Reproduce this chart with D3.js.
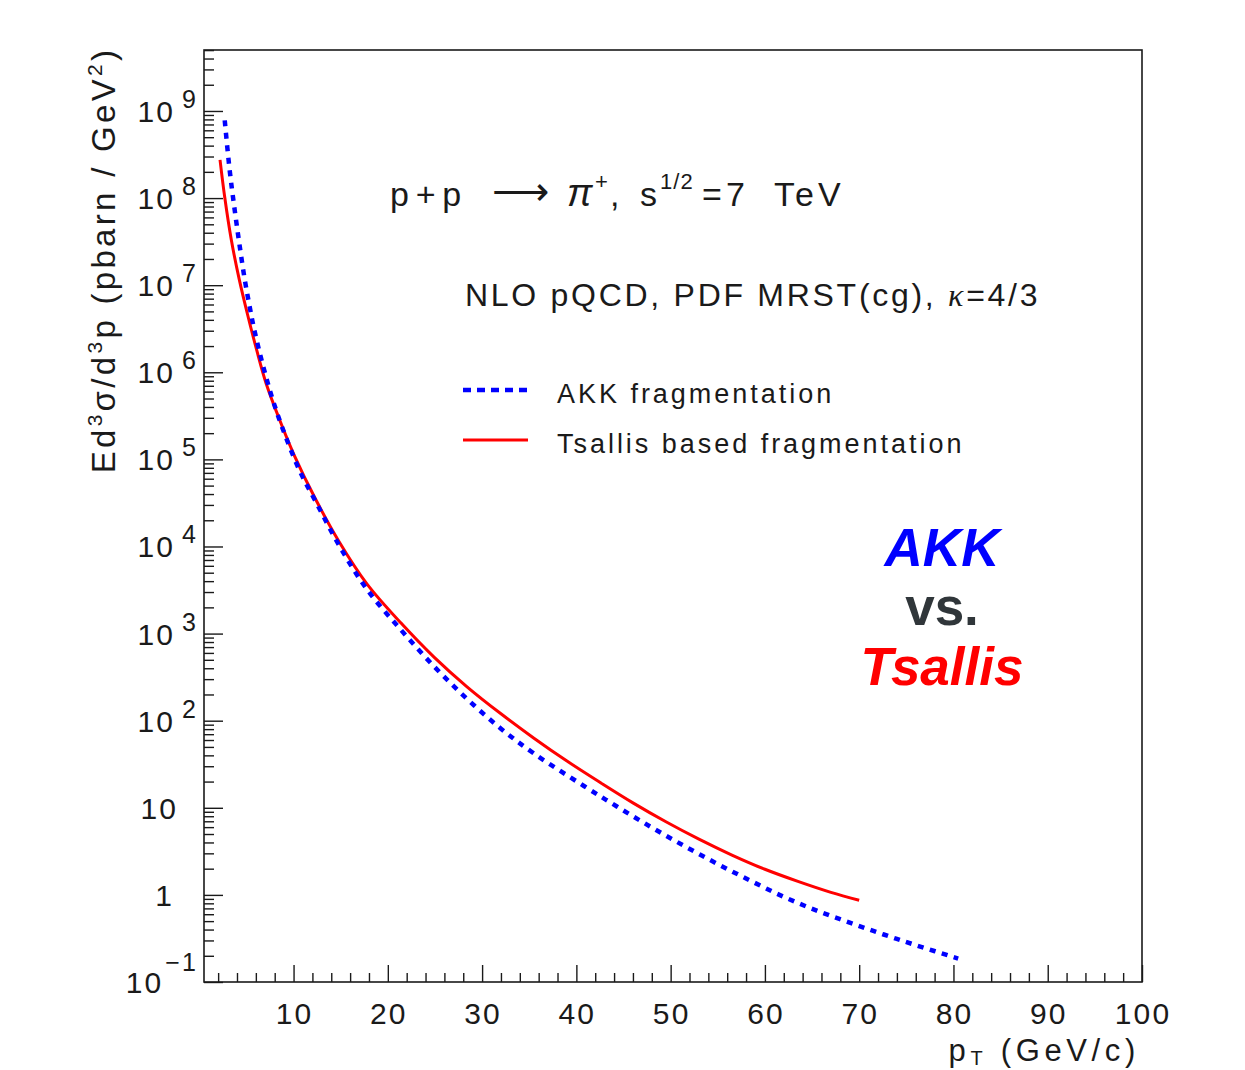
<!DOCTYPE html>
<html>
<head>
<meta charset="utf-8">
<script src="https://cdn.jsdelivr.net/npm/d3@7"></script>
<style>
  html, body { margin: 0; padding: 0; background: #fff; }
  svg { display: block; }
  text { font-family: "Liberation Sans", Arial, sans-serif; }
</style>
</head>
<body>
<div id="chart"></div>
<script>
// pi+ invariant cross section in pp at sqrt(s) = 7 TeV, NLO pQCD

// AKK fragmentation functions
const akkPt = [2.7, 3.2, 3.7, 4.25, 4.8, 5.3, 5.8, 6.7, 7.8, 9.1, 10.7, 12.4, 14.9, 17.8,
  21.4, 24.9, 28.4, 32.0, 35.5, 40.8, 44.3, 47.9, 51.4, 54.9, 58.5, 62.0, 65.5, 69.0,
  72.6, 76.1, 80.5];
const akkXsec = [7.8e8, 2.2e8, 8.1e7, 3.0e7, 1.2e7, 6.0e6, 3.2e6, 1.26e6, 4.8e5, 1.9e5,
  7.2e4, 3.2e4, 1.0e4, 3.2e3, 1.1e3, 420, 178, 81, 42, 17.8, 10.35, 6.03, 3.67, 2.29,
  1.45, 0.95, 0.66, 0.48, 0.351, 0.263, 0.186];

// Tsallis-based fragmentation functions
const tsallisPt = [2.2, 2.7, 3.4, 4.25, 5.1, 6.1, 7.1, 8.55, 10.1, 12.3, 14.8, 17.8, 21.4,
  24.9, 28.4, 32.0, 35.5, 39.0, 42.6, 46.0, 49.5, 53.0, 56.5, 60.0, 63.5, 67.0, 70.0];
const tsallisXsec = [2.75e8, 1.02e8, 3.3e7, 1.15e7, 4.7e6, 1.78e6, 7.4e5, 2.8e5, 1.1e5,
  3.55e4, 1.15e4, 3.7e3, 1.32e3, 537, 245, 120, 63, 34.4, 19.3, 11.4, 6.92, 4.37, 2.87,
  1.97, 1.43, 1.07, 0.867];

// axis ticks and labels
const xMajorTicks = [10, 20, 30, 40, 50, 60, 70, 80, 90, 100];
const xMinorTicks = d3.range(2, 100, 2).filter(v => v % 10 !== 0);
const yDecadeExponents = [-1, 0, 1, 2, 3, 4, 5, 6, 7, 8, 9];
const yMinorMultipliers = [2, 3, 4, 5, 6, 7, 8, 9];

const legendEntries = [
  { label: "AKK fragmentation", color: "#0000ff", dashed: true },
  { label: "Tsallis based fragmentation", color: "#ff0000", dashed: false }
];

const W = 1245, H = 1070;
const frame = { left: 204, right: 1142, top: 50, bottom: 982 };

const svg = d3.select("#chart").append("svg")
  .attr("width", W).attr("height", H)
  .attr("viewBox", `0 0 ${W} ${H}`);
svg.append("rect").attr("width", W).attr("height", H).attr("fill", "#fff");

const x = d3.scaleLinear().domain([0.5, 100]).range([frame.left, frame.right]);
const y = d3.scaleLog().domain([0.1, Math.pow(10, 9.7)]).range([frame.bottom, frame.top]);

const ink = "#1a1a1a";
const labelSize = 30, labelSpacing = "0.07em";

// ---- x axis ticks (drawn inward) ----
const xMajor = d3.axisBottom(x).tickValues(xMajorTicks).tickSize(-17).tickFormat("");
const xMinor = d3.axisBottom(x).tickValues(xMinorTicks).tickSize(-9).tickFormat("");
[xMajor, xMinor].forEach(ax => {
  const g = svg.append("g").attr("transform", `translate(0,${frame.bottom})`).call(ax);
  g.select(".domain").remove();
  g.selectAll("line").attr("stroke", ink).attr("stroke-width", 1.4);
});

svg.append("g").selectAll("text").data(xMajorTicks).join("text")
  .attr("x", d => x(d) + 1)
  .attr("y", 1024)
  .attr("text-anchor", "middle")
  .attr("font-size", labelSize)
  .attr("letter-spacing", labelSpacing)
  .attr("fill", ink)
  .text(d => d);

// ---- y axis ticks ----
const yMajorVals = yDecadeExponents.map(e => Math.pow(10, e));
const yMinorVals = [];
yDecadeExponents.forEach(e => yMinorMultipliers.forEach(m => {
  const v = m * Math.pow(10, e);
  if (v <= y.domain()[1] * 1.0001) yMinorVals.push(v);
}));
const yMajor = d3.axisLeft(y).tickValues(yMajorVals).tickSize(-19).tickFormat("");
const yMinor = d3.axisLeft(y).tickValues(yMinorVals).tickSize(-10).tickFormat("");
[yMajor, yMinor].forEach(ax => {
  const g = svg.append("g").attr("transform", `translate(${frame.left},0)`).call(ax);
  g.select(".domain").remove();
  g.selectAll("line").attr("stroke", ink).attr("stroke-width", 1.4);
});

// decade labels: 10^n with a raised exponent, "10" and "1" written plainly
const yLab = svg.append("g").attr("fill", ink)
  .attr("font-size", labelSize).attr("letter-spacing", labelSpacing);
yDecadeExponents.forEach(e => {
  const ty = y(Math.pow(10, e));
  if (e === 0 || e === 1) {
    yLab.append("text").attr("x", e === 0 ? 174 : 178).attr("y", ty + 11)
      .attr("text-anchor", "end").text(e === 0 ? "1" : "10");
  } else {
    const t = yLab.append("text").attr("x", 198).attr("y", ty + 11)
      .attr("text-anchor", "end");
    t.append("tspan").text("10");
    t.append("tspan").attr("dx", e < 0 ? 2 : 7).attr("dy", e < 0 ? -22 : -14)
      .attr("font-size", 25).text(e < 0 ? "\u2212" + Math.abs(e) : String(e));
  }
});

// ---- frame ----
svg.append("rect")
  .attr("x", frame.left).attr("y", frame.top)
  .attr("width", frame.right - frame.left).attr("height", frame.bottom - frame.top)
  .attr("fill", "none").attr("stroke", ink).attr("stroke-width", 1.6);

// ---- curves ----
const line = d3.line()
  .x(d => x(d[0])).y(d => y(d[1]))
  .curve(d3.curveCatmullRom.alpha(0.5));

const plot = svg.append("g");
plot.append("path")
  .datum(tsallisPt.map((p, i) => [p, tsallisXsec[i]]))
  .attr("d", line)
  .attr("fill", "none").attr("stroke", "#ff0000").attr("stroke-width", 3);
plot.append("path")
  .datum(akkPt.map((p, i) => [p, akkXsec[i]]))
  .attr("d", line)
  .attr("fill", "none").attr("stroke", "#0000ff").attr("stroke-width", 4.5)
  .attr("stroke-dasharray", "6,6.5");

// ---- axis titles ----
const xt = svg.append("text")
  .attr("x", 1140).attr("y", 1061)
  .attr("text-anchor", "end").attr("fill", ink)
  .attr("font-size", 31).attr("letter-spacing", "0.15em");
xt.append("tspan").text("p");
xt.append("tspan").attr("dy", 4).attr("font-size", 20).text("T");
xt.append("tspan").attr("dy", -4).text(" (GeV/c)");

const yt = svg.append("text")
  .attr("transform", "translate(115,260) rotate(-90)")
  .attr("text-anchor", "middle").attr("fill", ink)
  .attr("font-size", 33).attr("letter-spacing", "0.1em");
yt.append("tspan").text("Ed");
yt.append("tspan").attr("dy", -13).attr("font-size", 21).text("3");
yt.append("tspan").attr("dy", 13).text("σ/d");
yt.append("tspan").attr("dy", -13).attr("font-size", 21).text("3");
yt.append("tspan").attr("dy", 13).text("p (pbarn / GeV");
yt.append("tspan").attr("dy", -13).attr("font-size", 21).text("2");
yt.append("tspan").attr("dy", 13).text(")");

// ---- process label, laid out piece by piece ----
const titleY = 206;
const tg = svg.append("g").attr("fill", ink);
tg.append("text").attr("x", 390).attr("y", titleY).attr("font-size", 34)
  .attr("letter-spacing", "0.2em").text("p+p");
tg.append("text").attr("x", 492).attr("y", titleY - 1).attr("font-size", 40)
  .attr("font-family", "DejaVu Sans").text("\u27F6");
tg.append("text").attr("x", 567).attr("y", titleY).attr("font-size", 38)
  .attr("font-family", "Liberation Serif").attr("font-style", "italic").text("π");
tg.append("text").attr("x", 595).attr("y", titleY - 17).attr("font-size", 22).text("+");
tg.append("text").attr("x", 610).attr("y", titleY).attr("font-size", 34).text(",");
tg.append("text").attr("x", 640).attr("y", titleY).attr("font-size", 34).text("s");
tg.append("text").attr("x", 660).attr("y", titleY - 17).attr("font-size", 22)
  .attr("letter-spacing", "0.05em").text("1/2");
tg.append("text").attr("x", 702).attr("y", titleY).attr("font-size", 34)
  .attr("letter-spacing", "0.12em").text("=7");
tg.append("text").attr("x", 774).attr("y", titleY).attr("font-size", 34)
  .attr("letter-spacing", "0.12em").text("TeV");

const t2 = svg.append("text")
  .attr("x", 465).attr("y", 306).attr("fill", ink)
  .attr("font-size", 32).attr("letter-spacing", "0.085em");
t2.append("tspan").text("NLO pQCD, PDF MRST(cg), ");
t2.append("tspan").attr("font-family", "Liberation Serif").attr("font-style", "italic").text("κ");
t2.append("tspan").text("=4/3");

// ---- legend ----
const leg = svg.append("g");
legendEntries.forEach((d, i) => {
  const ly = 390 + i * 50;
  leg.append("line")
    .attr("x1", 463).attr("x2", 528).attr("y1", ly).attr("y2", ly)
    .attr("stroke", d.color)
    .attr("stroke-width", d.dashed ? 4.5 : 3)
    .attr("stroke-dasharray", d.dashed ? "8,6" : null);
  leg.append("text")
    .attr("x", 557).attr("y", ly + 13).attr("fill", ink)
    .attr("font-size", 27).attr("letter-spacing", "0.11em")
    .text(d.label);
});

// ---- comparison caption ----
const cap = svg.append("g").attr("text-anchor", "middle")
  .attr("font-weight", "bold").attr("font-size", 53);
cap.append("text").attr("x", 942).attr("y", 566)
  .attr("font-style", "italic").attr("fill", "#0000ff").text("AKK");
cap.append("text").attr("x", 942).attr("y", 625)
  .attr("fill", "#30363a").text("vs.");
cap.append("text").attr("x", 942).attr("y", 685)
  .attr("font-style", "italic").attr("fill", "#ff0000").text("Tsallis");
</script>
</body>
</html>
